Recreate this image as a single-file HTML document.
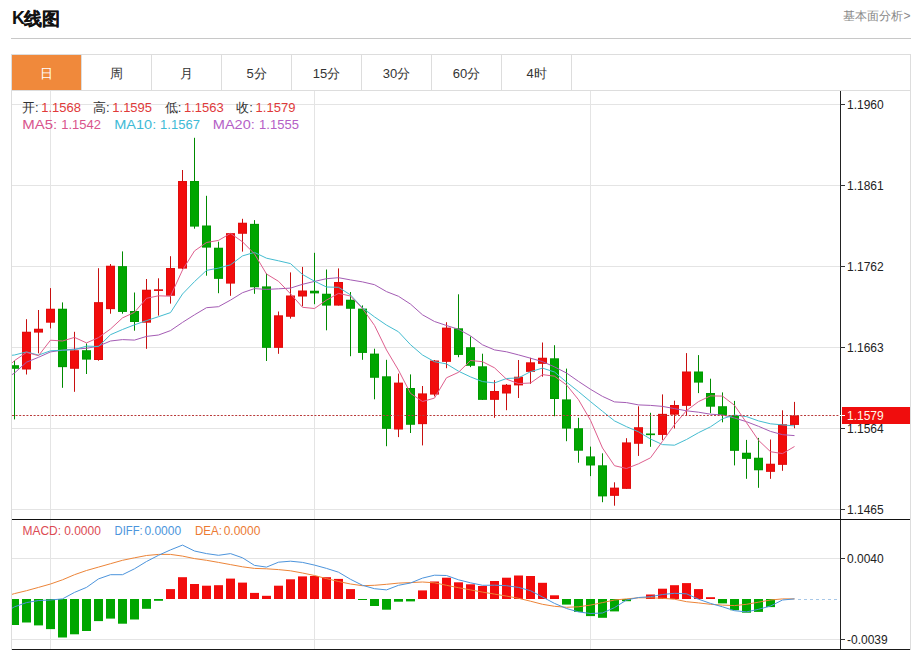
<!DOCTYPE html>
<html><head><meta charset="utf-8">
<style>
html,body{margin:0;padding:0;background:#fff;width:919px;height:651px;overflow:hidden}
svg{position:absolute;left:0;top:0;display:block}
text{font-family:"Liberation Sans",sans-serif}
.ax{font-size:12px;fill:#222}
.tab{font-size:13px;text-anchor:middle}
.info{font-size:13px}
</style></head><body>
<svg width="919" height="651" viewBox="0 0 919 651">
<defs><clipPath id="cc"><rect x="12" y="91" width="828" height="558"/></clipPath></defs>
<text x="12" y="24" style="font-size:18px;font-weight:bold" fill="#111">K</text><text x="23.5" y="24.5" style="font-size:17.5px;font-weight:bold;stroke:#111;stroke-width:0.2" fill="#111">线图</text>
<text x="910.5" y="20.3" style="font-size:12px;text-anchor:end" fill="#888">基本面分析&gt;</text>
<rect x="11" y="38" width="900" height="1" fill="#c8c8c8"/>
<rect x="11" y="54" width="900" height="1" fill="#ddd"/>
<rect x="11" y="54" width="1" height="596" fill="#ddd"/>
<rect x="910" y="54" width="1" height="596" fill="#ddd"/>
<rect x="11" y="90" width="900" height="1" fill="#ddd"/>
<rect x="12" y="55" width="69" height="35" fill="#f0893b"/>
<text x="46.5" y="78" class="tab" fill="#fff">日</text>
<rect x="81" y="54" width="1" height="36" fill="#ddd"/>
<text x="116.5" y="78" class="tab" fill="#333">周</text>
<rect x="151" y="54" width="1" height="36" fill="#ddd"/>
<text x="186.5" y="78" class="tab" fill="#333">月</text>
<rect x="221" y="54" width="1" height="36" fill="#ddd"/>
<text x="256.5" y="78" class="tab" fill="#333">5分</text>
<rect x="291" y="54" width="1" height="36" fill="#ddd"/>
<text x="326.5" y="78" class="tab" fill="#333">15分</text>
<rect x="361" y="54" width="1" height="36" fill="#ddd"/>
<text x="396.5" y="78" class="tab" fill="#333">30分</text>
<rect x="431" y="54" width="1" height="36" fill="#ddd"/>
<text x="466.5" y="78" class="tab" fill="#333">60分</text>
<rect x="501" y="54" width="1" height="36" fill="#ddd"/>
<text x="536.5" y="78" class="tab" fill="#333">4时</text>
<rect x="571" y="54" width="1" height="36" fill="#ddd"/>
<g clip-path="url(#cc)"><rect x="12" y="104" width="828" height="1" fill="#e4e4e4"/>
<rect x="12" y="185" width="828" height="1" fill="#e4e4e4"/>
<rect x="12" y="266" width="828" height="1" fill="#e4e4e4"/>
<rect x="12" y="347" width="828" height="1" fill="#e4e4e4"/>
<rect x="12" y="428" width="828" height="1" fill="#e4e4e4"/>
<rect x="12" y="509" width="828" height="1" fill="#e4e4e4"/>
<rect x="12" y="558" width="828" height="1" fill="#e4e4e4"/>
<rect x="12" y="639" width="828" height="1" fill="#e4e4e4"/>
<rect x="50" y="91" width="1" height="558" fill="#e4e4e4"/>
<rect x="314" y="91" width="1" height="558" fill="#e4e4e4"/>
<rect x="590" y="91" width="1" height="558" fill="#e4e4e4"/>
<rect x="14.0" y="360.6" width="1" height="58.8" fill="#008a00"/>
<rect x="10.0" y="365.3" width="9" height="3.4" fill="#00a600"/>
<rect x="10.5" y="365.8" width="8" height="2.4" fill="none" stroke="#008a00" stroke-width="1" stroke-opacity="0.45"/>
<rect x="26.0" y="319.2" width="1" height="55.3" fill="#c81010"/>
<rect x="22.0" y="331.8" width="9" height="37.6" fill="#f20c0c"/>
<rect x="22.5" y="332.3" width="8" height="36.6" fill="none" stroke="#c81010" stroke-width="1" stroke-opacity="0.45"/>
<rect x="38.0" y="310.0" width="1" height="43.3" fill="#c81010"/>
<rect x="34.0" y="328.8" width="9" height="3.7" fill="#f20c0c"/>
<rect x="34.5" y="329.3" width="8" height="2.7" fill="none" stroke="#c81010" stroke-width="1" stroke-opacity="0.45"/>
<rect x="50.0" y="288.1" width="1" height="40.3" fill="#c81010"/>
<rect x="46.0" y="308.8" width="9" height="13.8" fill="#f20c0c"/>
<rect x="46.5" y="309.3" width="8" height="12.8" fill="none" stroke="#c81010" stroke-width="1" stroke-opacity="0.45"/>
<rect x="62.0" y="302.4" width="1" height="85.4" fill="#008a00"/>
<rect x="58.0" y="308.8" width="9" height="58.3" fill="#00a600"/>
<rect x="58.5" y="309.3" width="8" height="57.3" fill="none" stroke="#008a00" stroke-width="1" stroke-opacity="0.45"/>
<rect x="74.0" y="331.8" width="1" height="60.0" fill="#c81010"/>
<rect x="70.0" y="350.3" width="9" height="18.4" fill="#f20c0c"/>
<rect x="70.5" y="350.8" width="8" height="17.4" fill="none" stroke="#c81010" stroke-width="1" stroke-opacity="0.45"/>
<rect x="86.0" y="343.4" width="1" height="30.6" fill="#008a00"/>
<rect x="82.0" y="350.3" width="9" height="9.2" fill="#00a600"/>
<rect x="82.5" y="350.8" width="8" height="8.2" fill="none" stroke="#008a00" stroke-width="1" stroke-opacity="0.45"/>
<rect x="98.0" y="268.2" width="1" height="92.5" fill="#c81010"/>
<rect x="94.0" y="302.2" width="9" height="57.8" fill="#f20c0c"/>
<rect x="94.5" y="302.7" width="8" height="56.8" fill="none" stroke="#c81010" stroke-width="1" stroke-opacity="0.45"/>
<rect x="110.0" y="264.0" width="1" height="49.7" fill="#c81010"/>
<rect x="106.0" y="265.8" width="9" height="43.3" fill="#f20c0c"/>
<rect x="106.5" y="266.3" width="8" height="42.3" fill="none" stroke="#c81010" stroke-width="1" stroke-opacity="0.45"/>
<rect x="122.0" y="251.4" width="1" height="62.3" fill="#008a00"/>
<rect x="118.0" y="266.2" width="9" height="45.7" fill="#00a600"/>
<rect x="118.5" y="266.7" width="8" height="44.7" fill="none" stroke="#008a00" stroke-width="1" stroke-opacity="0.45"/>
<rect x="134.0" y="292.5" width="1" height="38.2" fill="#008a00"/>
<rect x="130.0" y="311.0" width="9" height="11.0" fill="#00a600"/>
<rect x="130.5" y="311.5" width="8" height="10.0" fill="none" stroke="#008a00" stroke-width="1" stroke-opacity="0.45"/>
<rect x="146.0" y="279.0" width="1" height="69.8" fill="#c81010"/>
<rect x="142.0" y="289.8" width="9" height="32.8" fill="#f20c0c"/>
<rect x="142.5" y="290.3" width="8" height="31.8" fill="none" stroke="#c81010" stroke-width="1" stroke-opacity="0.45"/>
<rect x="158.0" y="278.3" width="1" height="37.3" fill="#c81010"/>
<rect x="154.0" y="289.4" width="9" height="1.5" fill="#f20c0c"/>
<rect x="154.5" y="289.9" width="8" height="0.5" fill="none" stroke="#c81010" stroke-width="1" stroke-opacity="0.45"/>
<rect x="170.0" y="256.2" width="1" height="47.4" fill="#c81010"/>
<rect x="166.0" y="268.0" width="9" height="27.7" fill="#f20c0c"/>
<rect x="166.5" y="268.5" width="8" height="26.7" fill="none" stroke="#c81010" stroke-width="1" stroke-opacity="0.45"/>
<rect x="182.0" y="170.0" width="1" height="99.0" fill="#c81010"/>
<rect x="178.0" y="181.0" width="9" height="87.5" fill="#f20c0c"/>
<rect x="178.5" y="181.5" width="8" height="86.5" fill="none" stroke="#c81010" stroke-width="1" stroke-opacity="0.45"/>
<rect x="194.0" y="137.8" width="1" height="90.9" fill="#008a00"/>
<rect x="190.0" y="181.0" width="9" height="45.5" fill="#00a600"/>
<rect x="190.5" y="181.5" width="8" height="44.5" fill="none" stroke="#008a00" stroke-width="1" stroke-opacity="0.45"/>
<rect x="206.0" y="195.8" width="1" height="79.9" fill="#008a00"/>
<rect x="202.0" y="225.6" width="9" height="21.9" fill="#00a600"/>
<rect x="202.5" y="226.1" width="8" height="20.9" fill="none" stroke="#008a00" stroke-width="1" stroke-opacity="0.45"/>
<rect x="218.0" y="241.7" width="1" height="51.5" fill="#008a00"/>
<rect x="214.0" y="247.8" width="9" height="31.0" fill="#00a600"/>
<rect x="214.5" y="248.3" width="8" height="30.0" fill="none" stroke="#008a00" stroke-width="1" stroke-opacity="0.45"/>
<rect x="230.0" y="233.0" width="1" height="62.8" fill="#c81010"/>
<rect x="226.0" y="233.2" width="9" height="50.3" fill="#f20c0c"/>
<rect x="226.5" y="233.7" width="8" height="49.3" fill="none" stroke="#c81010" stroke-width="1" stroke-opacity="0.45"/>
<rect x="242.0" y="218.8" width="1" height="32.8" fill="#c81010"/>
<rect x="238.0" y="222.8" width="9" height="10.9" fill="#f20c0c"/>
<rect x="238.5" y="223.3" width="8" height="9.9" fill="none" stroke="#c81010" stroke-width="1" stroke-opacity="0.45"/>
<rect x="254.0" y="220.1" width="1" height="73.7" fill="#008a00"/>
<rect x="250.0" y="223.9" width="9" height="63.3" fill="#00a600"/>
<rect x="250.5" y="224.4" width="8" height="62.3" fill="none" stroke="#008a00" stroke-width="1" stroke-opacity="0.45"/>
<rect x="266.0" y="273.4" width="1" height="87.6" fill="#008a00"/>
<rect x="262.0" y="286.5" width="9" height="61.3" fill="#00a600"/>
<rect x="262.5" y="287.0" width="8" height="60.3" fill="none" stroke="#008a00" stroke-width="1" stroke-opacity="0.45"/>
<rect x="278.0" y="311.5" width="1" height="42.3" fill="#c81010"/>
<rect x="274.0" y="315.4" width="9" height="32.4" fill="#f20c0c"/>
<rect x="274.5" y="315.9" width="8" height="31.4" fill="none" stroke="#c81010" stroke-width="1" stroke-opacity="0.45"/>
<rect x="290.0" y="272.4" width="1" height="46.2" fill="#c81010"/>
<rect x="286.0" y="295.6" width="9" height="21.1" fill="#f20c0c"/>
<rect x="286.5" y="296.1" width="8" height="20.1" fill="none" stroke="#c81010" stroke-width="1" stroke-opacity="0.45"/>
<rect x="302.0" y="266.9" width="1" height="39.4" fill="#c81010"/>
<rect x="298.0" y="290.6" width="9" height="5.8" fill="#f20c0c"/>
<rect x="298.5" y="291.1" width="8" height="4.8" fill="none" stroke="#c81010" stroke-width="1" stroke-opacity="0.45"/>
<rect x="314.0" y="252.8" width="1" height="51.4" fill="#008a00"/>
<rect x="310.0" y="290.8" width="9" height="2.5" fill="#00a600"/>
<rect x="310.5" y="291.3" width="8" height="1.5" fill="none" stroke="#008a00" stroke-width="1" stroke-opacity="0.45"/>
<rect x="326.0" y="269.5" width="1" height="60.8" fill="#008a00"/>
<rect x="322.0" y="293.8" width="9" height="11.7" fill="#00a600"/>
<rect x="322.5" y="294.3" width="8" height="10.7" fill="none" stroke="#008a00" stroke-width="1" stroke-opacity="0.45"/>
<rect x="338.0" y="268.4" width="1" height="37.1" fill="#c81010"/>
<rect x="334.0" y="282.0" width="9" height="23.5" fill="#f20c0c"/>
<rect x="334.5" y="282.5" width="8" height="22.5" fill="none" stroke="#c81010" stroke-width="1" stroke-opacity="0.45"/>
<rect x="350.0" y="292.0" width="1" height="64.2" fill="#008a00"/>
<rect x="346.0" y="299.8" width="9" height="8.9" fill="#00a600"/>
<rect x="346.5" y="300.3" width="8" height="7.9" fill="none" stroke="#008a00" stroke-width="1" stroke-opacity="0.45"/>
<rect x="362.0" y="305.4" width="1" height="54.4" fill="#008a00"/>
<rect x="358.0" y="308.7" width="9" height="44.2" fill="#00a600"/>
<rect x="358.5" y="309.2" width="8" height="43.2" fill="none" stroke="#008a00" stroke-width="1" stroke-opacity="0.45"/>
<rect x="374.0" y="348.7" width="1" height="50.6" fill="#008a00"/>
<rect x="370.0" y="353.7" width="9" height="24.0" fill="#00a600"/>
<rect x="370.5" y="354.2" width="8" height="23.0" fill="none" stroke="#008a00" stroke-width="1" stroke-opacity="0.45"/>
<rect x="386.0" y="359.8" width="1" height="86.4" fill="#008a00"/>
<rect x="382.0" y="376.4" width="9" height="52.4" fill="#00a600"/>
<rect x="382.5" y="376.9" width="8" height="51.4" fill="none" stroke="#008a00" stroke-width="1" stroke-opacity="0.45"/>
<rect x="398.0" y="373.6" width="1" height="63.5" fill="#c81010"/>
<rect x="394.0" y="382.7" width="9" height="46.7" fill="#f20c0c"/>
<rect x="394.5" y="383.2" width="8" height="45.7" fill="none" stroke="#c81010" stroke-width="1" stroke-opacity="0.45"/>
<rect x="410.0" y="374.4" width="1" height="58.6" fill="#008a00"/>
<rect x="406.0" y="388.0" width="9" height="36.7" fill="#00a600"/>
<rect x="406.5" y="388.5" width="8" height="35.7" fill="none" stroke="#008a00" stroke-width="1" stroke-opacity="0.45"/>
<rect x="422.0" y="386.0" width="1" height="59.4" fill="#c81010"/>
<rect x="418.0" y="393.5" width="9" height="30.6" fill="#f20c0c"/>
<rect x="418.5" y="394.0" width="8" height="29.6" fill="none" stroke="#c81010" stroke-width="1" stroke-opacity="0.45"/>
<rect x="434.0" y="360.0" width="1" height="36.4" fill="#c81010"/>
<rect x="430.0" y="360.6" width="9" height="33.9" fill="#f20c0c"/>
<rect x="430.5" y="361.1" width="8" height="32.9" fill="none" stroke="#c81010" stroke-width="1" stroke-opacity="0.45"/>
<rect x="446.0" y="322.2" width="1" height="46.0" fill="#c81010"/>
<rect x="442.0" y="327.7" width="9" height="34.1" fill="#f20c0c"/>
<rect x="442.5" y="328.2" width="8" height="33.1" fill="none" stroke="#c81010" stroke-width="1" stroke-opacity="0.45"/>
<rect x="458.0" y="294.3" width="1" height="62.9" fill="#008a00"/>
<rect x="454.0" y="328.4" width="9" height="26.5" fill="#00a600"/>
<rect x="454.5" y="328.9" width="8" height="25.5" fill="none" stroke="#008a00" stroke-width="1" stroke-opacity="0.45"/>
<rect x="470.0" y="336.5" width="1" height="30.6" fill="#008a00"/>
<rect x="466.0" y="347.3" width="9" height="18.4" fill="#00a600"/>
<rect x="466.5" y="347.8" width="8" height="17.4" fill="none" stroke="#008a00" stroke-width="1" stroke-opacity="0.45"/>
<rect x="482.0" y="353.7" width="1" height="46.3" fill="#008a00"/>
<rect x="478.0" y="366.4" width="9" height="33.4" fill="#00a600"/>
<rect x="478.5" y="366.9" width="8" height="32.4" fill="none" stroke="#008a00" stroke-width="1" stroke-opacity="0.45"/>
<rect x="494.0" y="380.2" width="1" height="37.6" fill="#c81010"/>
<rect x="490.0" y="391.0" width="9" height="8.8" fill="#f20c0c"/>
<rect x="490.5" y="391.5" width="8" height="7.8" fill="none" stroke="#c81010" stroke-width="1" stroke-opacity="0.45"/>
<rect x="506.0" y="384.0" width="1" height="26.2" fill="#c81010"/>
<rect x="502.0" y="384.8" width="9" height="8.6" fill="#f20c0c"/>
<rect x="502.5" y="385.3" width="8" height="7.6" fill="none" stroke="#c81010" stroke-width="1" stroke-opacity="0.45"/>
<rect x="518.0" y="360.0" width="1" height="38.0" fill="#c81010"/>
<rect x="514.0" y="376.8" width="9" height="8.5" fill="#f20c0c"/>
<rect x="514.5" y="377.3" width="8" height="7.5" fill="none" stroke="#c81010" stroke-width="1" stroke-opacity="0.45"/>
<rect x="530.0" y="357.8" width="1" height="26.1" fill="#c81010"/>
<rect x="526.0" y="362.4" width="9" height="9.4" fill="#f20c0c"/>
<rect x="526.5" y="362.9" width="8" height="8.4" fill="none" stroke="#c81010" stroke-width="1" stroke-opacity="0.45"/>
<rect x="542.0" y="342.5" width="1" height="34.2" fill="#c81010"/>
<rect x="538.0" y="357.8" width="9" height="6.0" fill="#f20c0c"/>
<rect x="538.5" y="358.3" width="8" height="5.0" fill="none" stroke="#c81010" stroke-width="1" stroke-opacity="0.45"/>
<rect x="554.0" y="345.2" width="1" height="71.0" fill="#008a00"/>
<rect x="550.0" y="358.4" width="9" height="40.6" fill="#00a600"/>
<rect x="550.5" y="358.9" width="8" height="39.6" fill="none" stroke="#008a00" stroke-width="1" stroke-opacity="0.45"/>
<rect x="566.0" y="368.6" width="1" height="72.6" fill="#008a00"/>
<rect x="562.0" y="399.5" width="9" height="29.0" fill="#00a600"/>
<rect x="562.5" y="400.0" width="8" height="28.0" fill="none" stroke="#008a00" stroke-width="1" stroke-opacity="0.45"/>
<rect x="578.0" y="417.8" width="1" height="44.9" fill="#008a00"/>
<rect x="574.0" y="428.3" width="9" height="22.3" fill="#00a600"/>
<rect x="574.5" y="428.8" width="8" height="21.3" fill="none" stroke="#008a00" stroke-width="1" stroke-opacity="0.45"/>
<rect x="590.0" y="446.6" width="1" height="29.5" fill="#008a00"/>
<rect x="586.0" y="456.5" width="9" height="8.9" fill="#00a600"/>
<rect x="586.5" y="457.0" width="8" height="7.9" fill="none" stroke="#008a00" stroke-width="1" stroke-opacity="0.45"/>
<rect x="602.0" y="453.3" width="1" height="48.9" fill="#008a00"/>
<rect x="598.0" y="465.4" width="9" height="30.9" fill="#00a600"/>
<rect x="598.5" y="465.9" width="8" height="29.9" fill="none" stroke="#008a00" stroke-width="1" stroke-opacity="0.45"/>
<rect x="614.0" y="482.3" width="1" height="23.4" fill="#c81010"/>
<rect x="610.0" y="487.7" width="9" height="8.1" fill="#f20c0c"/>
<rect x="610.5" y="488.2" width="8" height="7.1" fill="none" stroke="#c81010" stroke-width="1" stroke-opacity="0.45"/>
<rect x="626.0" y="438.2" width="1" height="50.6" fill="#c81010"/>
<rect x="622.0" y="442.5" width="9" height="46.3" fill="#f20c0c"/>
<rect x="622.5" y="443.0" width="8" height="45.3" fill="none" stroke="#c81010" stroke-width="1" stroke-opacity="0.45"/>
<rect x="638.0" y="406.3" width="1" height="49.6" fill="#c81010"/>
<rect x="634.0" y="427.3" width="9" height="16.4" fill="#f20c0c"/>
<rect x="634.5" y="427.8" width="8" height="15.4" fill="none" stroke="#c81010" stroke-width="1" stroke-opacity="0.45"/>
<rect x="650.0" y="412.8" width="1" height="34.0" fill="#008a00"/>
<rect x="646.0" y="433.6" width="9" height="1.5" fill="#00a600"/>
<rect x="646.5" y="434.1" width="8" height="0.5" fill="none" stroke="#008a00" stroke-width="1" stroke-opacity="0.45"/>
<rect x="662.0" y="394.4" width="1" height="45.5" fill="#c81010"/>
<rect x="658.0" y="413.9" width="9" height="21.0" fill="#f20c0c"/>
<rect x="658.5" y="414.4" width="8" height="20.0" fill="none" stroke="#c81010" stroke-width="1" stroke-opacity="0.45"/>
<rect x="674.0" y="400.7" width="1" height="27.8" fill="#c81010"/>
<rect x="670.0" y="405.0" width="9" height="9.6" fill="#f20c0c"/>
<rect x="670.5" y="405.5" width="8" height="8.6" fill="none" stroke="#c81010" stroke-width="1" stroke-opacity="0.45"/>
<rect x="686.0" y="353.1" width="1" height="62.3" fill="#c81010"/>
<rect x="682.0" y="371.6" width="9" height="34.2" fill="#f20c0c"/>
<rect x="682.5" y="372.1" width="8" height="33.2" fill="none" stroke="#c81010" stroke-width="1" stroke-opacity="0.45"/>
<rect x="698.0" y="355.1" width="1" height="38.0" fill="#008a00"/>
<rect x="694.0" y="371.6" width="9" height="10.9" fill="#00a600"/>
<rect x="694.5" y="372.1" width="8" height="9.9" fill="none" stroke="#008a00" stroke-width="1" stroke-opacity="0.45"/>
<rect x="710.0" y="378.7" width="1" height="34.5" fill="#008a00"/>
<rect x="706.0" y="393.0" width="9" height="13.6" fill="#00a600"/>
<rect x="706.5" y="393.5" width="8" height="12.6" fill="none" stroke="#008a00" stroke-width="1" stroke-opacity="0.45"/>
<rect x="722.0" y="392.4" width="1" height="29.9" fill="#008a00"/>
<rect x="718.0" y="406.3" width="9" height="8.6" fill="#00a600"/>
<rect x="718.5" y="406.8" width="8" height="7.6" fill="none" stroke="#008a00" stroke-width="1" stroke-opacity="0.45"/>
<rect x="734.0" y="400.9" width="1" height="64.5" fill="#008a00"/>
<rect x="730.0" y="415.5" width="9" height="35.3" fill="#00a600"/>
<rect x="730.5" y="416.0" width="8" height="34.3" fill="none" stroke="#008a00" stroke-width="1" stroke-opacity="0.45"/>
<rect x="746.0" y="439.9" width="1" height="38.9" fill="#008a00"/>
<rect x="742.0" y="452.8" width="9" height="6.0" fill="#00a600"/>
<rect x="742.5" y="453.3" width="8" height="5.0" fill="none" stroke="#008a00" stroke-width="1" stroke-opacity="0.45"/>
<rect x="758.0" y="437.9" width="1" height="49.9" fill="#008a00"/>
<rect x="754.0" y="457.8" width="9" height="12.4" fill="#00a600"/>
<rect x="754.5" y="458.3" width="8" height="11.4" fill="none" stroke="#008a00" stroke-width="1" stroke-opacity="0.45"/>
<rect x="770.0" y="439.5" width="1" height="39.3" fill="#c81010"/>
<rect x="766.0" y="463.8" width="9" height="8.0" fill="#f20c0c"/>
<rect x="766.5" y="464.3" width="8" height="7.0" fill="none" stroke="#c81010" stroke-width="1" stroke-opacity="0.45"/>
<rect x="782.0" y="410.3" width="1" height="60.5" fill="#c81010"/>
<rect x="778.0" y="424.3" width="9" height="40.5" fill="#f20c0c"/>
<rect x="778.5" y="424.8" width="8" height="39.5" fill="none" stroke="#c81010" stroke-width="1" stroke-opacity="0.45"/>
<rect x="794.0" y="401.9" width="1" height="26.4" fill="#c81010"/>
<rect x="790.0" y="415.5" width="9" height="9.4" fill="#f20c0c"/>
<rect x="790.5" y="416.0" width="8" height="8.4" fill="none" stroke="#c81010" stroke-width="1" stroke-opacity="0.45"/>
<polyline points="11.5,375.0 14.5,373.0 26.5,362.2 38.5,357.3 50.5,351.9 62.5,350.2 74.5,349.1 86.5,348.3 98.5,346.1 110.5,341.0 122.5,339.6 134.5,340.1 146.5,336.4 158.5,335.0 170.5,330.6 182.5,322.4 194.5,314.8 206.5,307.7 218.5,306.7 230.5,300.1 242.5,292.7 254.5,288.6 266.5,289.4 278.5,288.8 290.5,288.1 302.5,284.3 314.5,281.4 326.5,278.7 338.5,277.7 350.5,279.9 362.5,281.9 374.5,284.7 386.5,291.6 398.5,296.3 410.5,304.1 422.5,314.8 434.5,321.5 446.5,325.5 458.5,329.3 470.5,335.9 482.5,344.8 494.5,349.9 506.5,351.8 518.5,354.9 530.5,358.2 542.5,361.6 554.5,366.9 566.5,373.0 578.5,381.4 590.5,389.3 602.5,396.4 614.5,401.9 626.5,402.6 638.5,404.9 650.5,405.4 662.5,406.4 674.5,408.6 686.5,410.8 698.5,412.2 710.5,414.2 722.5,415.0 734.5,418.0 746.5,421.7 758.5,426.3 770.5,431.4 782.5,434.7 794.5,435.6" fill="none" stroke="#a45cb4" stroke-width="1"/>
<polyline points="11.5,355.3 14.5,355.0 26.5,351.9 38.5,355.1 50.5,350.8 62.5,350.2 74.5,349.7 86.5,346.1 98.5,346.5 110.5,334.7 122.5,329.5 134.5,324.8 146.5,320.6 158.5,316.7 170.5,312.6 182.5,294.0 194.5,281.6 206.5,270.4 218.5,268.1 230.5,264.8 242.5,255.9 254.5,252.4 266.5,258.2 278.5,260.8 290.5,263.6 302.5,274.5 314.5,281.2 326.5,287.0 338.5,287.3 350.5,294.9 362.5,307.9 374.5,316.9 386.5,325.1 398.5,331.8 410.5,344.7 422.5,355.0 434.5,361.7 446.5,363.9 458.5,371.2 470.5,376.9 482.5,381.6 494.5,382.9 506.5,378.5 518.5,377.9 530.5,371.7 542.5,368.1 554.5,372.0 566.5,382.1 578.5,391.6 590.5,401.6 602.5,411.3 614.5,420.9 626.5,426.7 638.5,431.8 650.5,439.0 662.5,444.6 674.5,445.2 686.5,439.5 698.5,432.7 710.5,426.8 722.5,418.7 734.5,415.0 746.5,416.6 758.5,420.9 770.5,423.8 782.5,424.9 794.5,425.9" fill="none" stroke="#44bcd0" stroke-width="1"/>
<polyline points="11.5,363.5 14.5,360.6 26.5,352.4 38.5,355.7 50.5,340.2 62.5,341.0 74.5,337.4 86.5,342.9 98.5,337.6 110.5,329.0 122.5,317.9 134.5,312.3 146.5,298.3 158.5,295.8 170.5,296.2 182.5,270.0 194.5,250.9 206.5,242.5 218.5,240.4 230.5,233.4 242.5,241.8 254.5,253.9 266.5,274.0 278.5,281.3 290.5,293.8 302.5,307.3 314.5,308.5 326.5,300.1 338.5,293.4 350.5,296.0 362.5,308.5 374.5,325.4 386.5,350.0 398.5,370.2 410.5,393.4 422.5,401.5 434.5,398.1 446.5,377.8 458.5,372.3 470.5,360.5 482.5,361.7 494.5,367.8 506.5,379.2 518.5,383.6 530.5,383.0 542.5,374.6 554.5,376.2 566.5,384.9 578.5,399.7 590.5,420.3 602.5,448.0 614.5,465.7 626.5,468.5 638.5,463.8 650.5,457.8 662.5,441.3 674.5,424.7 686.5,410.6 698.5,401.6 710.5,395.9 722.5,396.1 734.5,405.3 746.5,422.7 758.5,440.3 770.5,451.7 782.5,453.6 794.5,446.5" fill="none" stroke="#de5f8e" stroke-width="1"/>
<line x1="12" y1="415.5" x2="840" y2="415.5" stroke="#b83a3a" stroke-width="1" stroke-dasharray="2 1.6"/>
<rect x="10.0" y="599" width="9" height="26.0" fill="#00a600"/>
<rect x="22.0" y="599" width="9" height="23.5" fill="#00a600"/>
<rect x="34.0" y="599" width="9" height="26.4" fill="#00a600"/>
<rect x="46.0" y="599" width="9" height="30.1" fill="#00a600"/>
<rect x="58.0" y="599" width="9" height="38.5" fill="#00a600"/>
<rect x="70.0" y="599" width="9" height="35.3" fill="#00a600"/>
<rect x="82.0" y="599" width="9" height="32.0" fill="#00a600"/>
<rect x="94.0" y="599" width="9" height="22.1" fill="#00a600"/>
<rect x="106.0" y="599" width="9" height="19.6" fill="#00a600"/>
<rect x="118.0" y="599" width="9" height="24.7" fill="#00a600"/>
<rect x="130.0" y="599" width="9" height="20.5" fill="#00a600"/>
<rect x="142.0" y="599" width="9" height="9.8" fill="#00a600"/>
<rect x="154.0" y="599" width="9" height="1.8" fill="#00a600"/>
<rect x="166.0" y="589.1" width="9" height="9.9" fill="#f20c0c"/>
<rect x="178.0" y="577.2" width="9" height="21.8" fill="#f20c0c"/>
<rect x="190.0" y="584.0" width="9" height="15.0" fill="#f20c0c"/>
<rect x="202.0" y="585.7" width="9" height="13.3" fill="#f20c0c"/>
<rect x="214.0" y="585.2" width="9" height="13.8" fill="#f20c0c"/>
<rect x="226.0" y="578.6" width="9" height="20.4" fill="#f20c0c"/>
<rect x="238.0" y="582.6" width="9" height="16.4" fill="#f20c0c"/>
<rect x="250.0" y="592.9" width="9" height="6.1" fill="#f20c0c"/>
<rect x="262.0" y="595.8" width="9" height="3.2" fill="#f20c0c"/>
<rect x="274.0" y="585.7" width="9" height="13.3" fill="#f20c0c"/>
<rect x="286.0" y="579.3" width="9" height="19.7" fill="#f20c0c"/>
<rect x="298.0" y="576.4" width="9" height="22.6" fill="#f20c0c"/>
<rect x="310.0" y="576.0" width="9" height="23.0" fill="#f20c0c"/>
<rect x="322.0" y="577.2" width="9" height="21.8" fill="#f20c0c"/>
<rect x="334.0" y="578.9" width="9" height="20.1" fill="#f20c0c"/>
<rect x="346.0" y="589.1" width="9" height="9.9" fill="#f20c0c"/>
<rect x="358.0" y="599" width="9" height="1.0" fill="#00a600"/>
<rect x="370.0" y="599" width="9" height="7.0" fill="#00a600"/>
<rect x="382.0" y="599" width="9" height="10.7" fill="#00a600"/>
<rect x="394.0" y="599" width="9" height="2.7" fill="#00a600"/>
<rect x="406.0" y="599" width="9" height="2.4" fill="#00a600"/>
<rect x="418.0" y="590.4" width="9" height="8.6" fill="#f20c0c"/>
<rect x="430.0" y="581.5" width="9" height="17.5" fill="#f20c0c"/>
<rect x="442.0" y="577.7" width="9" height="21.3" fill="#f20c0c"/>
<rect x="454.0" y="582.3" width="9" height="16.7" fill="#f20c0c"/>
<rect x="466.0" y="584.3" width="9" height="14.7" fill="#f20c0c"/>
<rect x="478.0" y="586.0" width="9" height="13.0" fill="#f20c0c"/>
<rect x="490.0" y="581.0" width="9" height="18.0" fill="#f20c0c"/>
<rect x="502.0" y="577.7" width="9" height="21.3" fill="#f20c0c"/>
<rect x="514.0" y="575.5" width="9" height="23.5" fill="#f20c0c"/>
<rect x="526.0" y="576.0" width="9" height="23.0" fill="#f20c0c"/>
<rect x="538.0" y="582.8" width="9" height="16.2" fill="#f20c0c"/>
<rect x="550.0" y="595.3" width="9" height="3.7" fill="#f20c0c"/>
<rect x="562.0" y="599" width="9" height="5.6" fill="#00a600"/>
<rect x="574.0" y="599" width="9" height="12.9" fill="#00a600"/>
<rect x="586.0" y="599" width="9" height="17.1" fill="#00a600"/>
<rect x="598.0" y="599" width="9" height="18.8" fill="#00a600"/>
<rect x="610.0" y="599" width="9" height="12.4" fill="#00a600"/>
<rect x="622.0" y="599" width="9" height="2.2" fill="#00a600"/>
<rect x="646.0" y="594.5" width="9" height="4.5" fill="#f20c0c"/>
<rect x="658.0" y="588.7" width="9" height="10.3" fill="#f20c0c"/>
<rect x="670.0" y="585.2" width="9" height="13.8" fill="#f20c0c"/>
<rect x="682.0" y="583.1" width="9" height="15.9" fill="#f20c0c"/>
<rect x="694.0" y="589.1" width="9" height="9.9" fill="#f20c0c"/>
<rect x="706.0" y="597.2" width="9" height="1.8" fill="#f20c0c"/>
<rect x="718.0" y="599" width="9" height="4.4" fill="#00a600"/>
<rect x="730.0" y="599" width="9" height="11.2" fill="#00a600"/>
<rect x="742.0" y="599" width="9" height="13.7" fill="#00a600"/>
<rect x="754.0" y="599" width="9" height="12.9" fill="#00a600"/>
<rect x="766.0" y="599" width="9" height="8.1" fill="#00a600"/>
<polyline points="11.5,594.5 14.5,593.6 26.5,590.7 38.5,587.4 50.5,584.0 62.5,579.8 74.5,574.7 86.5,570.5 98.5,567.1 110.5,563.7 122.5,560.3 134.5,557.8 146.5,555.5 158.5,554.4 170.5,554.4 182.5,556.1 194.5,558.6 206.5,560.3 218.5,562.4 230.5,564.6 242.5,566.8 254.5,568.4 266.5,568.8 278.5,569.6 290.5,570.8 302.5,573.0 314.5,575.5 326.5,578.6 338.5,581.5 350.5,584.0 362.5,585.7 374.5,585.3 386.5,584.3 398.5,583.1 410.5,582.6 422.5,582.0 434.5,582.8 446.5,585.3 458.5,587.7 470.5,589.9 482.5,592.1 494.5,594.1 506.5,596.1 518.5,598.3 530.5,601.2 542.5,604.3 554.5,606.3 566.5,607.3 578.5,606.8 590.5,605.1 602.5,602.6 614.5,600.0 626.5,598.9 638.5,597.8 650.5,597.8 662.5,598.3 674.5,599.2 686.5,601.7 698.5,602.9 710.5,604.3 722.5,605.1 734.5,605.6 746.5,604.3 758.5,602.2 770.5,600.0 782.5,598.9 794.5,598.9" fill="none" stroke="#ec8438" stroke-width="1"/>
<polyline points="11.5,608.5 14.5,606.8 26.5,602.6 38.5,600.5 50.5,600.0 62.5,598.9 74.5,592.4 86.5,587.4 98.5,578.9 110.5,574.7 122.5,574.7 134.5,568.8 146.5,561.5 158.5,555.3 170.5,549.9 182.5,545.1 194.5,551.0 206.5,553.6 218.5,555.3 230.5,553.6 242.5,557.8 254.5,565.4 266.5,567.1 278.5,562.2 290.5,561.2 302.5,562.4 314.5,565.1 326.5,568.4 338.5,572.2 350.5,579.3 362.5,585.3 374.5,588.7 386.5,589.9 398.5,585.3 410.5,583.0 422.5,578.1 434.5,575.2 446.5,575.5 458.5,579.8 470.5,582.8 482.5,585.3 494.5,585.2 506.5,585.7 518.5,587.4 530.5,590.7 542.5,597.0 554.5,603.4 566.5,608.5 578.5,611.9 590.5,613.5 602.5,613.0 614.5,607.6 626.5,600.0 638.5,597.5 650.5,596.7 662.5,594.5 674.5,593.3 686.5,593.8 698.5,599.2 710.5,603.4 722.5,606.8 734.5,610.7 746.5,611.9 758.5,609.3 770.5,606.0 782.5,600.0 794.5,598.9" fill="none" stroke="#4c94dc" stroke-width="1"/>
<line x1="798" y1="599.5" x2="840" y2="599.5" stroke="#a8c8e8" stroke-width="1" stroke-dasharray="3 3"/></g>
<rect x="840" y="91" width="1" height="559" fill="#222"/>
<rect x="12" y="519" width="898" height="1" fill="#111"/>
<rect x="12" y="649" width="898" height="1" fill="#1a1a1a"/>
<rect x="840" y="104" width="5" height="1" fill="#333"/>
<text x="847" y="108.5" class="ax">1.1960</text>
<rect x="840" y="185" width="5" height="1" fill="#333"/>
<text x="847" y="189.5" class="ax">1.1861</text>
<rect x="840" y="266" width="5" height="1" fill="#333"/>
<text x="847" y="270.5" class="ax">1.1762</text>
<rect x="840" y="347" width="5" height="1" fill="#333"/>
<text x="847" y="351.5" class="ax">1.1663</text>
<rect x="840" y="428" width="5" height="1" fill="#333"/>
<text x="847" y="432.5" class="ax">1.1564</text>
<rect x="840" y="509" width="5" height="1" fill="#333"/>
<text x="847" y="513.5" class="ax">1.1465</text>
<rect x="840" y="558" width="5" height="1" fill="#333"/>
<text x="847" y="562.5" class="ax">0.0040</text>
<rect x="840" y="639" width="5" height="1" fill="#333"/>
<text x="847" y="643.5" class="ax">-0.0039</text>
<rect x="842" y="407" width="68" height="17" fill="#f00d0d"/>
<rect x="840" y="415" width="5" height="1" fill="#fff"/>
<text x="847" y="420" class="ax" style="fill:#fff8e8">1.1579</text>
<g class="info">
<text x="22" y="112" style="fill:#333">开:</text><text x="41.2" y="112" style="fill:#e03a3a">1.1568</text>
<text x="93" y="112" style="fill:#333">高:</text><text x="112.3" y="112" style="fill:#e03a3a">1.1595</text>
<text x="164.7" y="112" style="fill:#333">低:</text><text x="184" y="112" style="fill:#e03a3a">1.1563</text>
<text x="236.3" y="112" style="fill:#333">收:</text><text x="255.6" y="112" style="fill:#e03a3a">1.1579</text>
<text x="22.2" y="129" style="fill:#d9548c" textLength="35" lengthAdjust="spacingAndGlyphs">MA5:</text><text x="61.2" y="129" style="fill:#d9548c">1.1542</text>
<text x="114.2" y="129" style="fill:#3dbad6" textLength="42" lengthAdjust="spacingAndGlyphs">MA10:</text><text x="160.1" y="129" style="fill:#3dbad6">1.1567</text>
<text x="212.8" y="129" style="fill:#b460c6" textLength="42" lengthAdjust="spacingAndGlyphs">MA20:</text><text x="259.1" y="129" style="fill:#b460c6">1.1555</text>
</g>
<g style="font-size:12px">
<text x="22.5" y="535" style="fill:#dc4a52" textLength="38.5" lengthAdjust="spacingAndGlyphs">MACD:</text><text x="64.2" y="535" style="fill:#dc4a52">0.0000</text>
<text x="114.6" y="535" style="fill:#4b95dc" textLength="28" lengthAdjust="spacingAndGlyphs">DIFF:</text><text x="144.4" y="535" style="fill:#4b95dc">0.0000</text>
<text x="195" y="535" style="fill:#ec7a32" textLength="27" lengthAdjust="spacingAndGlyphs">DEA:</text><text x="223.7" y="535" style="fill:#ec7a32">0.0000</text>
</g>
</svg>
</body></html>
